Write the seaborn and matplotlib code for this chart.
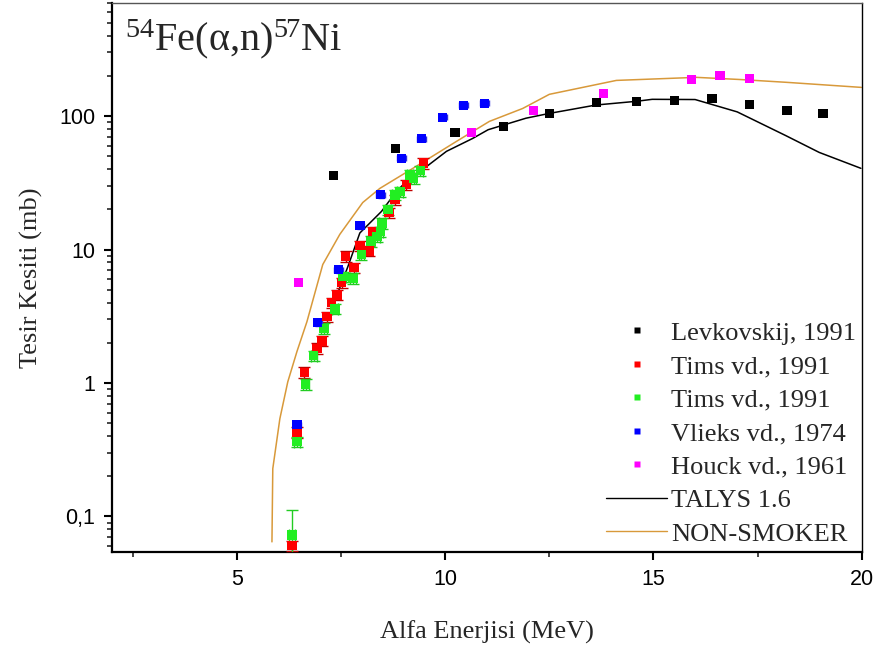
import numpy as np
import pandas as pd
import matplotlib
matplotlib.use("Agg")
import matplotlib.pyplot as plt
from matplotlib.lines import Line2D
from matplotlib.ticker import FixedLocator, FuncFormatter, LogLocator, NullFormatter
import seaborn as sns

# ---------------- data ----------------
lev_E = [7.32, 8.81, 10.23, 11.40, 12.50, 13.63, 14.59, 15.50, 16.41, 17.30, 18.21, 19.07]
lev_s = [35.9, 57.3, 75.5, 83.7, 104.7, 126.5, 128.9, 131.0, 135.8, 122.4, 110.0, 104.7]

timsR_E = [6.32, 6.44, 6.62, 6.92, 7.04, 7.16, 7.27, 7.40, 7.51, 7.61, 7.81, 7.95, 8.17, 8.27, 8.65, 8.79, 9.07, 9.475]
timsR_s = [0.0605, 0.426, 1.20, 1.82, 2.07, 3.14, 4.0, 4.57, 5.65, 8.9, 7.33, 10.7, 9.78, 13.6, 18.9, 23.6, 30.6, 44.4]

timsG_E = [6.32, 6.44, 6.65, 6.84, 7.09, 7.35, 7.55, 7.79, 7.99, 8.22, 8.36, 8.44, 8.48, 8.63, 8.79, 8.91, 9.15, 9.24, 9.40]
timsG_s = [0.0724, 0.363, 0.976, 1.60, 2.57, 3.59, 6.27, 6.09, 9.2, 11.5, 12.5, 13.6, 15.7, 19.9, 25.7, 27.2, 36.3, 34.3, 38.9]

vl_E = [6.44, 6.94, 7.44, 7.95, 8.45, 8.95, 9.43, 9.94, 10.44, 10.94]
vl_s = [0.487, 2.83, 7.08, 15.1, 25.8, 48.1, 67.9, 97.8, 120.0, 124.5]

ho_E = [6.48, 10.63, 12.12, 13.80, 15.91, 16.60, 17.30]
ho_s = [5.66, 75.5, 110.0, 148.0, 188.0, 202.0, 192.0]

talys_E = [7.37, 7.66, 7.95, 8.47, 8.83, 9.19, 9.55, 10.03, 10.66, 11.03, 11.94, 12.50,
           13.62, 14.59, 14.97, 16.0, 17.01, 18.18, 18.98, 19.98]
talys_s = [4.3, 7.4, 13.3, 19.3, 27.3, 35.3, 41.8, 54.4, 68.0, 79.0, 96.4, 104.7,
           121.0, 129.0, 133.5, 133.0, 107.5, 71.3, 53.4, 40.6]

ns_E = [5.84, 5.86, 6.03, 6.22, 6.44, 6.68, 7.06, 7.47, 8.02, 8.43, 9.22, 10.27, 11.06,
        11.86, 12.50, 14.11, 16.03, 17.06, 18.19, 19.99]
ns_s = [0.0645, 0.228, 0.54, 1.02, 1.72, 2.88, 7.72, 13.0, 22.5, 28.7, 40.5, 64.6, 91.2,
        114.0, 145.5, 185.0, 195.0, 188.0, 179.0, 164.0]

labels = ["Levkovskij, 1991", "Tims vd., 1991", "Tims vd., 1991 ", "Vlieks vd., 1974",
          "Houck vd., 1961", "TALYS 1.6", "NON-SMOKER"]
colors = ["#000000", "#FF0000", "#22EE22", "#0000FF", "#FF00FF", "#000000", "#D8993A"]

x_ticks = [5, 10, 15, 20]
y_ticks = [0.1, 1, 10, 100]
y_ticklabels = ["0,1", "1", "10", "100"]

# ---------------- style ----------------
sns.set_style("ticks")
plt.rcParams["font.family"] = ["Liberation Sans", "DejaVu Sans"]
plt.rcParams["mathtext.fontset"] = "custom"
plt.rcParams["mathtext.rm"] = "Liberation Serif"
plt.rcParams["mathtext.it"] = "Liberation Serif:italic"

fig = plt.figure(figsize=(8.82, 6.55), dpi=100)
ax = fig.add_axes([0.127, 0.157, 0.850, 0.838])

pts = pd.concat([
    pd.DataFrame({"E": lev_E, "s": lev_s, "set": labels[0]}),
    pd.DataFrame({"E": timsR_E, "s": timsR_s, "set": labels[1]}),
    pd.DataFrame({"E": timsG_E, "s": timsG_s, "set": labels[2]}),
    pd.DataFrame({"E": vl_E, "s": vl_s, "set": labels[3]}),
    pd.DataFrame({"E": ho_E, "s": ho_s, "set": labels[4]}),
], ignore_index=True)

lines = pd.concat([
    pd.DataFrame({"E": talys_E, "s": talys_s, "set": labels[5]}),
    pd.DataFrame({"E": ns_E, "s": ns_s, "set": labels[6]}),
], ignore_index=True)

# theory curves
sns.lineplot(data=lines, x="E", y="s", hue="set", hue_order=labels[5:],
             palette=colors[5:], estimator=None, sort=False, lw=1.1, ax=ax, legend=False)

# error bars
r = np.array(timsR_s)
ax.errorbar(timsR_E, timsR_s, yerr=0.09 * r, fmt="none", ecolor="#C00000", elinewidth=1.0,
            capsize=4, capthick=1.0, zorder=3)
g = np.array(timsG_s)
gerr = 0.09 * g
gerr[0] = 0.039
ax.errorbar(timsG_E, timsG_s, yerr=gerr, xerr=0.07, fmt="none", ecolor="#22CC22",
            elinewidth=1.0, capsize=4, capthick=1.0, zorder=3)
ax.errorbar(vl_E, vl_s, xerr=0.1, yerr=0.05 * np.array(vl_s), fmt="none", ecolor="#3030DD",
            elinewidth=1.0, capsize=2, zorder=3)

sns.scatterplot(data=pts, x="E", y="s", hue="set", hue_order=labels[:5], palette=colors[:5],
                marker="s", s=46, linewidth=0, ax=ax, legend=False, zorder=4)

ax.set_yscale("log")
ax.set_xlim(2, 20)
ax.set_ylim(0.054, 700)

ax.xaxis.set_major_locator(FixedLocator(x_ticks))
ax.xaxis.set_minor_locator(FixedLocator([2.5, 7.5, 12.5, 17.5]))
ax.yaxis.set_major_locator(FixedLocator(y_ticks))
ax.yaxis.set_major_formatter(FuncFormatter(lambda v, p: dict(zip(y_ticks, y_ticklabels)).get(round(v, 6), "")))
ax.yaxis.set_minor_locator(LogLocator(base=10, subs=np.arange(2, 10), numticks=20))
ax.yaxis.set_minor_formatter(NullFormatter())

ax.tick_params(axis="both", which="major", direction="out", length=6, width=1.5,
               labelsize=15.5, colors="black", pad=6)
ax.tick_params(axis="both", which="minor", direction="out", length=3.5, width=1.2)

for side in ["left", "bottom"]:
    ax.spines[side].set_linewidth(1.6)
    ax.spines[side].set_color("black")
ax.spines["right"].set_linewidth(1.0)
ax.spines["right"].set_color("black")
ax.spines["top"].set_linewidth(1.0)
ax.spines["top"].set_color("#555555")

serif = ["Liberation Serif", "DejaVu Serif"]
ax.set_xlabel("Alfa Enerjisi (MeV)", fontsize=19, family=serif, labelpad=22)
ax.set_ylabel("Tesir Kesiti (mb)", fontsize=19, family=serif, labelpad=12)

ax.text(0.017, 0.975, "$^{54}$Fe(α,n)$^{57}$Ni", transform=ax.transAxes,
        fontsize=29, va="top", ha="left", family=serif)

handles = [Line2D([], [], ls="none", marker="s", ms=4.5, mec="none", mfc=c) for c in colors[:5]]
handles += [Line2D([], [], color=c, lw=1.0) for c in colors[5:]]
leg = ax.legend(handles, [l.strip() for l in labels], loc="lower right", frameon=False,
                prop={"family": serif, "size": 19}, handlelength=2.3, handletextpad=0.15,
                labelspacing=0.38, borderaxespad=0.1, bbox_to_anchor=(1.01, -0.012))

fig.savefig("out.png", dpi=100)
